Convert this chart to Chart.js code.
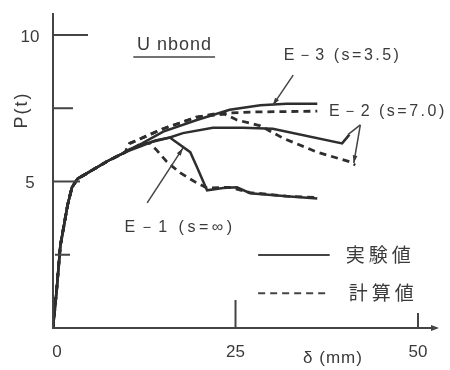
<!DOCTYPE html>
<html>
<head>
<meta charset="utf-8">
<script src="https://cdn.jsdelivr.net/npm/chart.js@4.4.1/dist/chart.umd.min.js"></script>
<style>
  html, body { margin: 0; padding: 0; background: #fff; }
  #wrap { width: 450px; height: 370px; }
</style>
</head>
<body>
<div id="wrap"><canvas id="chart" width="450" height="370"></canvas></div>
<script>
// tick labels
const xTicks = [0, 25, 50]
const yTicks = [5, 10]

// common elastic part (all specimens)
const baseX = [0, 0.5, 1.0, 1.5, 2.0, 2.6, 3.4, 4.8, 7.5, 9.9]
const baseY = [0, 1.3, 2.8, 3.5, 4.2, 4.8, 5.1, 5.3, 5.7, 6.0]

// E-3 (s=3.5)
const e3ExpX = [12.2, 15.1, 19.7, 24.2, 28.4, 32.0, 36.2]
const e3ExpY = [6.3, 6.7, 7.1, 7.45, 7.6, 7.65, 7.65]
const e3CalX = [10.5, 15.1, 19.7, 22.5, 27.0, 36.2]
const e3CalY = [6.3, 6.8, 7.2, 7.32, 7.37, 7.4]

// E-2 (s=7.0)
const e2ExpX = [10.5, 13.5, 16.0, 17.8, 21.9, 26.0, 30.1, 39.6, 40.6]
const e2ExpY = [6.1, 6.35, 6.5, 6.65, 6.83, 6.83, 6.8, 6.3, 6.6]
const e2CalX = [10.5, 15.1, 19.7, 23.5, 25.2, 28.4, 31.5, 36.2, 40.7, 41.4]
const e2CalY = [6.3, 6.8, 7.2, 7.3, 7.1, 6.9, 6.48, 6.0, 5.67, 5.56]

// E-1 (s=∞)
const e1ExpX = [12.0, 14.0, 16.0, 18.8, 19.7, 21.1, 23.3, 25.2, 27.0, 32.0, 36.2]
const e1ExpY = [6.2, 6.4, 6.5, 6.0, 5.5, 4.7, 4.78, 4.8, 4.6, 4.5, 4.42]
const e1CalX = [12.2, 13.3, 14.2, 15.6, 17.4, 19.7, 21.1, 24.2, 27.0, 32.0, 36.2]
const e1CalY = [6.3, 6.3, 6.07, 5.67, 5.3, 4.95, 4.78, 4.8, 4.62, 4.5, 4.45]

function pts(xs, ys) {
    const p = baseX.map((x, i) => ({x: x, y: baseY[i]}))
    xs.forEach((x, i) => p.push({x: x, y: ys[i]}))
    return p
}

const ink = '#2e2e2e'
const font = '"Liberation Sans", "DejaVu Sans", sans-serif'
const jpFont = '"Noto Sans CJK JP", sans-serif'

function solid(data) {
    return {data: data, borderColor: ink, borderWidth: 2.5, pointRadius: 0, fill: false, tension: 0}
}
function dashed(data) {
    return {data: data, borderColor: ink, borderWidth: 2.8, borderDash: [7, 5], pointRadius: 0, fill: false, tension: 0}
}

// axes, ticks, labels and notes drawn on top
const drawing = {
    id: 'drawing',
    afterDatasetsDraw(chart) {
        const c = chart.ctx
        const xs = chart.scales.x, ys = chart.scales.y
        const X = v => xs.getPixelForValue(v)
        const Y = v => ys.getPixelForValue(v)
        const a = chart.chartArea
        c.save()
        c.strokeStyle = '#444'
        c.fillStyle = '#444'
        c.lineWidth = 2
        // axes
        c.beginPath()
        c.moveTo(a.left, a.top)
        c.lineTo(a.left, a.bottom)
        c.lineTo(a.right, a.bottom)
        c.stroke()
        c.beginPath()
        c.moveTo(a.right + 2, a.bottom)
        c.lineTo(a.right - 6, a.bottom - 3)
        c.lineTo(a.right - 6, a.bottom + 3)
        c.closePath()
        c.fill()
        // inner tick marks
        const yMarks = [[2.5, 2, 17], [5, 0, 27], [7.5, 0, 20], [10, 0, 35]]
        yMarks.forEach(m => {
            c.beginPath()
            c.moveTo(a.left + m[1], Y(m[0]))
            c.lineTo(a.left + m[2], Y(m[0]))
            c.stroke()
        })
        const xMarks = [[25, 28], [50, 15]]
        xMarks.forEach(m => {
            c.beginPath()
            c.moveTo(X(m[0]), a.bottom)
            c.lineTo(X(m[0]), a.bottom - m[1])
            c.stroke()
        })
        // tick labels
        c.fillStyle = '#3a3a3a'
        c.font = '17px ' + font
        c.textAlign = 'center'
        c.textBaseline = 'middle'
        xTicks.forEach(v => c.fillText(String(v), X(v) + (v === 0 ? 4 : 0), a.bottom + 24))
        yTicks.forEach(v => c.fillText(String(v), a.left - 23, Y(v) + 2))
        // axis titles
        c.letterSpacing = '1px'
        c.fillText('δ (mm)', 333, 358)
        c.save()
        c.translate(22, 110)
        c.rotate(-Math.PI / 2)
        c.font = '18px ' + font
        c.letterSpacing = '2px'
        c.fillText('P(t)', 0, 0)
        c.restore()
        // Unbond
        c.textAlign = 'left'
        c.font = '18px ' + font
        c.letterSpacing = '1px'
        c.fillText('U nbond', X(11.5), Y(9.66))
        c.lineWidth = 1.5
        c.beginPath()
        c.moveTo(X(11), Y(9.25))
        c.lineTo(X(22.2), Y(9.25))
        c.stroke()
        // specimen labels
        c.font = '16px ' + font
        c.letterSpacing = '2.5px'
        c.fillText('E－3 (s=3.5)', X(31.6), Y(9.3))
        c.fillText('E－2 (s=7.0)', X(37.8), Y(7.37))
        c.letterSpacing = '3.5px'
        c.fillText('E－1 (s=∞)', X(9.8), Y(3.41))
        c.letterSpacing = '0px'
        // leader lines
        c.lineWidth = 1.5
        const leader = (x0, y0, x1, y1, head) => {
            const px0 = X(x0), py0 = Y(y0), px1 = X(x1), py1 = Y(y1)
            c.beginPath()
            c.moveTo(px0, py0)
            c.lineTo(px1, py1)
            c.stroke()
            if (head) {
                const ang = Math.atan2(py1 - py0, px1 - px0)
                c.beginPath()
                c.moveTo(px1, py1)
                c.lineTo(px1 - 8 * Math.cos(ang - 0.3), py1 - 8 * Math.sin(ang - 0.3))
                c.lineTo(px1 - 8 * Math.cos(ang + 0.3), py1 - 8 * Math.sin(ang + 0.3))
                c.closePath()
                c.fill()
            }
        }
        leader(32.9, 8.63, 30.1, 7.6, true)
        leader(42.1, 6.93, 40.4, 6.6, false)
        leader(42.1, 6.93, 41.2, 5.63, true)
        leader(12.9, 4.27, 17.8, 6.14, true)
        // legend
        c.lineWidth = 2
        c.beginPath()
        c.moveTo(X(28.1), Y(2.49))
        c.lineTo(X(37.9), Y(2.49))
        c.stroke()
        c.setLineDash([7, 5])
        c.beginPath()
        c.moveTo(X(28.1), Y(1.19))
        c.lineTo(X(37.9), Y(1.19))
        c.stroke()
        c.setLineDash([])
        c.font = '19px ' + jpFont
        c.letterSpacing = '4px'
        c.fillText('実験値', X(40.1), Y(2.49))
        c.fillText('計算値', X(40.5), Y(1.19))
        c.restore()
    }
}

new Chart("chart", {
    type: 'line',
    data: {
        datasets: [
            solid(pts(e3ExpX, e3ExpY)),
            dashed(pts(e3CalX, e3CalY)),
            solid(pts(e2ExpX, e2ExpY)),
            dashed(pts(e2CalX, e2CalY)),
            solid(pts(e1ExpX, e1ExpY)),
            dashed(pts(e1CalX, e1CalY))
        ]
    },
    options: {
        responsive: false,
        animation: false,
        layout: {padding: {left: 53, right: 13, top: 13, bottom: 42}},
        plugins: {legend: {display: false}, tooltip: {enabled: false}},
        scales: {
            x: {type: 'linear', min: 0, max: 52.6, display: false},
            y: {type: 'linear', min: 0, max: 10.75, display: false}
        }
    },
    plugins: [drawing]
})
</script>
</body>
</html>
